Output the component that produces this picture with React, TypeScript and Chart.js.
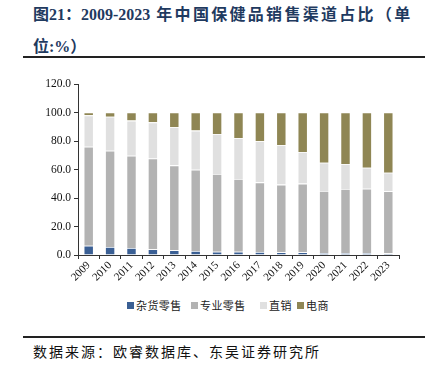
import React, { useEffect, useRef } from "react";
import { Chart, registerables } from "chart.js";
Chart.register(...registerables);

const years = ["2009","2010","2011","2012","2013","2014","2015","2016","2017","2018","2019","2020","2021","2022","2023"];
const grocery = [6.5, 5.6, 4.9, 4.0, 3.3, 2.8, 2.3, 2.3, 2.1, 1.9, 1.9, 1.4, 1.4, 1.4, 1.2];
const specialty = [69.5, 67.6, 64.8, 63.8, 59.6, 57.1, 54.5, 51.0, 48.9, 47.5, 48.2, 43.5, 44.9, 45.1, 43.5];
const direct = [22.0, 23.8, 24.6, 25.3, 26.7, 27.4, 28.1, 28.6, 28.8, 27.6, 22.2, 19.9, 17.6, 14.8, 13.1];
const ecommerce = [2.0, 3.0, 5.7, 6.9, 10.4, 12.7, 15.1, 18.1, 20.2, 23.0, 27.7, 35.2, 36.1, 38.7, 42.2];
const seriesNames = ["杂货零售", "专业零售", "直销", "电商"];
const seriesColors = ["#3A5F94", "#B3B3B3", "#E0E0E0", "#8F8654"];
const yTicks = [0, 20, 40, 60, 80, 100, 120];

const SERIF = "'Liberation Serif', 'Times New Roman', 'Noto Sans CJK SC', serif";
const CJK = "'Noto Sans CJK SC', 'Liberation Serif', serif";
const legendLefts = [127, 191, 260, 297];

export default function App() {
  const ref = useRef<HTMLCanvasElement | null>(null);
  useEffect(() => {
    if (!ref.current) return;
    const data = [grocery, specialty, direct, ecommerce];
    const chart = new Chart(ref.current, {
      type: "bar",
      data: {
        labels: years,
        datasets: seriesNames.map((n, i) => ({
          label: n,
          data: data[i],
          backgroundColor: seriesColors[i],
          borderColor: "rgba(255,255,255,0.5)",
          borderWidth: 0.8,
          barPercentage: 0.47,
          categoryPercentage: 1,
        })),
      },
      options: {
        animation: false,
        responsive: false,
        maintainAspectRatio: false,
        layout: { padding: { left: 0, right: 43, top: 14, bottom: 0 } },
        plugins: {
          tooltip: { enabled: false },
          legend: { display: false },
        },
        scales: {
          x: {
            stacked: true,
            grid: { display: true, drawOnChartArea: false, offset: true, color: "#333", tickLength: 4 },
            border: { color: "#333", width: 1 },
            ticks: {
              autoSkip: false,
              minRotation: 45,
              maxRotation: 45,
              color: "#111",
              font: { family: SERIF, size: 11 },
              padding: 0,
            },
            afterFit: (s: any) => { s.height = 40; },
          },
          y: {
            stacked: true,
            min: 0,
            max: 120,
            afterBuildTicks: (s: any) => { s.ticks = yTicks.map((v) => ({ value: v })); },
            grid: { display: true, drawOnChartArea: false, color: "#333", tickLength: 4 },
            border: { color: "#333", width: 1 },
            ticks: {
              color: "#111",
              font: { family: SERIF, size: 11.5 },
              padding: 3,
              callback: (v: any) => Number(v).toFixed(1),
            },
            afterFit: (s: any) => { s.width = 78; },
          },
        },
      },
    });
    return () => chart.destroy();
  }, []);

  return (
    <div style={{ position: "absolute", left: 0, top: 0, width: 442, height: 372, background: "#fff", overflow: "hidden" }}>
      <div style={{ position: "absolute", left: 33, top: -2, fontFamily: SERIF, fontWeight: "bold", fontSize: 16, color: "#1F3A5F", lineHeight: "30px", whiteSpace: "nowrap" }}>
        <span style={{ fontFamily: CJK }}>图</span>21<span style={{ fontFamily: CJK }}>：</span>2009-2023
        <span style={{ fontFamily: CJK, letterSpacing: "2.3px" }}> 年中国保健品销售渠道占比（单</span>
        <br />
        <span style={{ fontFamily: CJK }}>位</span>:%<span style={{ fontFamily: CJK }}>）</span>
      </div>
      <div style={{ position: "absolute", left: 23, top: 56, width: 402, height: 2, background: "#222" }} />
      <canvas ref={ref} width={442} height={225} style={{ position: "absolute", left: 0, top: 70, width: 442, height: 225 }} />
      {seriesNames.map((n, i) => (
        <div key={n} style={{ position: "absolute", left: legendLefts[i], top: 297, height: 16, display: "flex", alignItems: "center", whiteSpace: "nowrap" }}>
          <span style={{ display: "inline-block", width: 7, height: 7, background: seriesColors[i], marginRight: 2 }} />
          <span style={{ fontFamily: CJK, fontSize: 11, letterSpacing: "0.4px", color: "#222" }}>{n}</span>
        </div>
      ))}
      <div style={{ position: "absolute", left: 23, top: 336, width: 402, height: 1.5, background: "#222" }} />
      <div style={{ position: "absolute", left: 33, top: 341, fontFamily: CJK, fontSize: 14, letterSpacing: "2px", color: "#111", lineHeight: "20px", whiteSpace: "nowrap" }}>
        数据来源：欧睿数据库、东吴证券研究所
      </div>
    </div>
  );
}
